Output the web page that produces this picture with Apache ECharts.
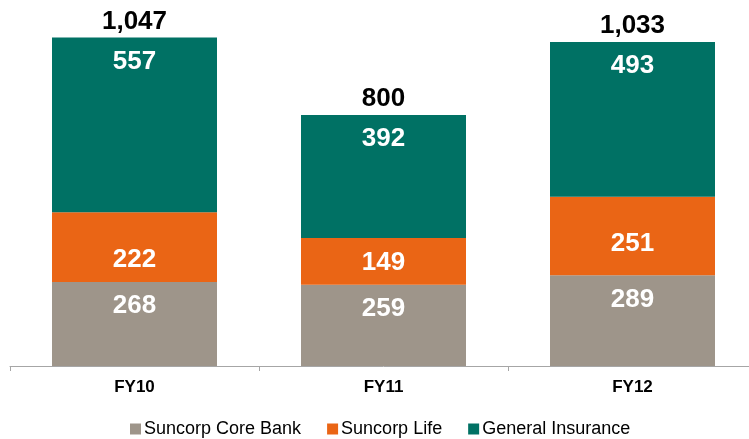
<!DOCTYPE html>
<html>
<head>
<meta charset="utf-8">
<script src="https://cdn.jsdelivr.net/npm/echarts@6/dist/echarts.min.js"></script>
<style>
html, body { margin: 0; padding: 0; background: #fff; overflow: hidden; }
#chart { width: 760px; height: 439px; }
</style>
</head>
<body>
<div id="chart"></div>
<script>
var years = ['FY10', 'FY11', 'FY12'];
var coreBank = [268, 259, 289];
var life = [222, 149, 251];
var generalIns = [557, 392, 493];
var totals = [1047, 800, 1033];

var myChart = echarts.init(document.getElementById('chart'));
var inLabel = {
    show: true,
    color: '#fff',
    fontFamily: 'Liberation Sans',
    fontWeight: 'bold',
    fontSize: 26
};
var option = {
    animation: false,
    grid: {
        left: 10,
        width: 747,
        top: 21,
        bottom: 73
    },
    legend: {
        data: ['Suncorp Core Bank', 'Suncorp Life', 'General Insurance'],
        top: 415,
        left: 125,
        itemWidth: 11,
        itemHeight: 11,
        itemGap: 26,
        icon: 'rect',
        textStyle: {
            fontFamily: 'Liberation Sans',
            fontSize: 18,
            color: '#000',
            padding: [0, 0, 0, -2]
        }
    },
    xAxis: {
        type: 'category',
        data: years,
        axisLine: { lineStyle: { color: '#A6A6A6' } },
        axisTick: { show: true, length: 5, lineStyle: { color: '#A6A6A6' } },
        axisLabel: {
            margin: 13,
            fontFamily: 'Liberation Sans',
            fontWeight: 'bold',
            fontSize: 17,
            color: '#000'
        }
    },
    yAxis: {
        type: 'value',
        min: 0,
        max: 1100,
        show: false,
        splitLine: { show: false }
    },
    series: [{
            name: 'Suncorp Core Bank',
            type: 'bar',
            stack: 'a',
            barWidth: 165,
            data: coreBank,
            itemStyle: { color: '#9E958A' },
            label: Object.assign({ position: 'insideTop', distance: 11 }, inLabel)
        },
        {
            name: 'Suncorp Life',
            type: 'bar',
            stack: 'a',
            data: life.map(function (v, i) {
                // FY12 label sits higher in the original
                return i === 2 ? { value: v, label: { distance: 19 } } : v;
            }),
            itemStyle: { color: '#EA6515' },
            label: Object.assign({ position: 'insideBottom', distance: 9 }, inLabel)
        },
        {
            name: 'General Insurance',
            type: 'bar',
            stack: 'a',
            data: generalIns,
            itemStyle: { color: '#007164' },
            label: Object.assign({ position: 'insideTop', distance: 11 }, inLabel)
        },
        {
            name: 'Total',
            type: 'bar',
            stack: 'a',
            data: totals.map(function () { return 0; }),
            itemStyle: { color: 'transparent' },
            label: {
                show: true,
                position: 'top',
                distance: 3,
                fontFamily: 'Liberation Sans',
                fontWeight: 'bold',
                fontSize: 26,
                color: '#000',
                formatter: function (p) {
                    return totals[p.dataIndex].toLocaleString('en-US');
                }
            }
        }
    ]
};
myChart.setOption(option);
</script>
</body>
</html>
